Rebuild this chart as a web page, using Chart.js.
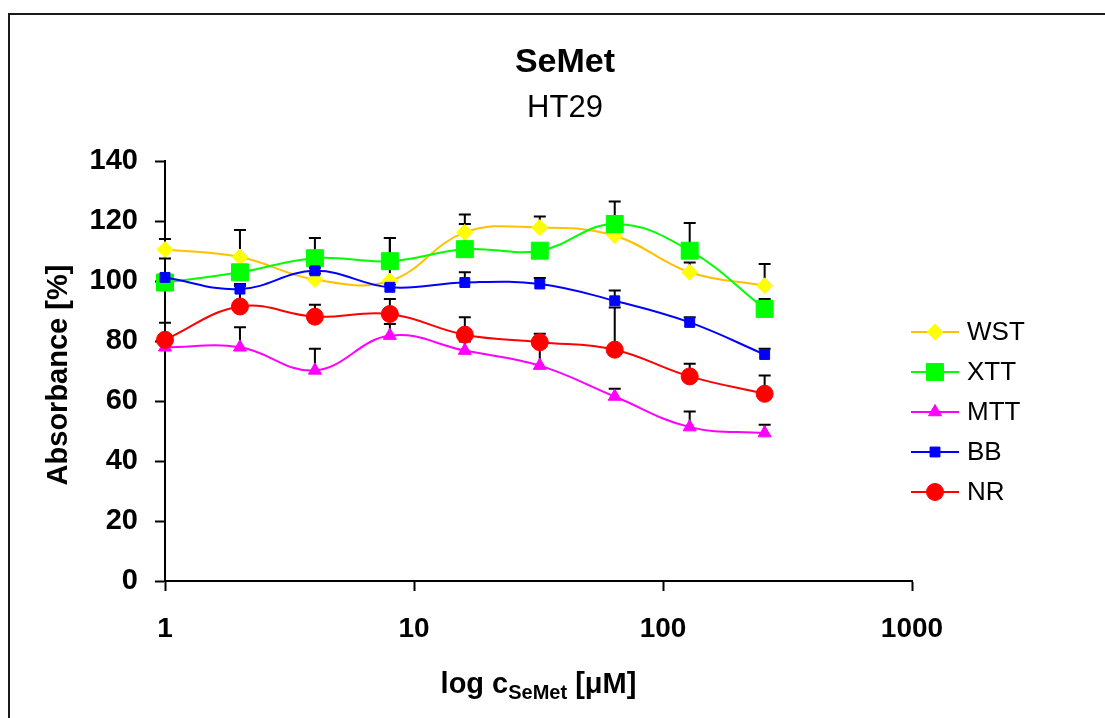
<!DOCTYPE html>
<html>
<head>
<meta charset="utf-8">
<script src="https://cdn.jsdelivr.net/npm/chart.js@4/dist/chart.umd.min.js"></script>
<style>
  html, body { margin: 0; padding: 0; background: #fff; overflow: hidden; }
  canvas { display: block; }
</style>
</head>
<body>
<canvas id="c" width="1105" height="718"></canvas>
<script>
// ---- data ----
const concentrations = [1, 2, 4, 8, 16, 32, 64, 128, 256];
const xTickValues = [1, 10, 100, 1000];
const seriesNames = ['WST', 'XTT', 'MTT', 'BB', 'NR'];

const wst    = [110.5, 108.0, 100.5, 100.0, 116.2, 117.8, 115.1, 102.9, 98.4];
const wstErr = [3.5, 9.0, 2.0, 14.3, 6.0, 3.7, 2.0, 3.3, 7.3];
const xtt    = [99.5, 102.9, 107.6, 106.6, 110.6, 110.1, 119.0, 110.1, 90.7];
const xttErr = [1.0, 1.0, 6.7, 7.7, 8.4, 1.0, 7.5, 9.2, 3.3];
const mtt    = [77.9, 77.9, 70.2, 81.8, 76.8, 71.8, 61.5, 51.3, 49.3];
const mttErr = [1.0, 6.7, 7.2, 3.9, 3.0, 7.0, 2.6, 5.2, 2.8];
const bb     = [101.2, 97.3, 103.4, 97.9, 99.5, 99.0, 93.4, 86.2, 75.5];
const bbErr  = [6.3, 1.0, 1.0, 1.0, 3.4, 2.0, 3.4, 1.7, 1.9];
const nr     = [80.4, 91.5, 88.1, 89.0, 82.1, 79.6, 77.1, 68.2, 62.4];
const nrErr  = [5.7, 7.5, 4.0, 5.0, 5.8, 2.8, 14.1, 4.2, 6.1];

// ---- styles ----
const FONT = '"Liberation Sans", Arial, sans-serif';
const styles = {
  WST: { line: '#FFC000', fill: '#FFFF00', point: 'rectRot', r: 8, order: 4 },
  XTT: { line: '#00FF00', fill: '#00FF00', point: 'rect', r: 12, order: 3 },
  MTT: { line: '#FF00FF', fill: '#FF00FF', point: 'triangle', r: 7.5, order: 2 },
  BB:  { line: '#0000FF', fill: '#0000FF', point: 'rect', r: 7, order: 1 },
  NR:  { line: '#FF0000', fill: '#FF0000', point: 'circle', r: 8.5, order: 0 }
};
const values = { WST: wst, XTT: xtt, MTT: mtt, BB: bb, NR: nr };
const errors = { WST: wstErr, XTT: xttErr, MTT: mttErr, BB: bbErr, NR: nrErr };

const datasets = seriesNames.map(name => {
  const s = styles[name];
  return {
    label: name,
    data: concentrations.map((x, i) => ({ x: x, y: values[name][i] })),
    errs: errors[name],
    borderColor: s.line,
    backgroundColor: s.fill,
    pointBackgroundColor: s.fill,
    pointBorderColor: s.fill,
    pointBorderWidth: 1,
    pointStyle: s.point,
    pointRadius: s.r,
    borderWidth: 2,
    tension: 0.4,
    order: s.order,
    clip: false
  };
});

function drawMarker(ctx, style, radius, x, y, fill) {
  ctx.save();
  ctx.fillStyle = fill; ctx.strokeStyle = fill; ctx.lineWidth = 1;
  if (Chart.helpers && Chart.helpers.drawPoint) {
    Chart.helpers.drawPoint(ctx, { pointStyle: style, radius: radius, rotation: 0, borderWidth: 1 }, x, y);
  } else {
    ctx.beginPath(); ctx.arc(x, y, radius, 0, Math.PI * 2); ctx.fill();
  }
  ctx.restore();
}

const decor = {
  id: 'decor',
  beforeDraw(chart) {
    const ctx = chart.ctx;
    ctx.save();
    ctx.fillStyle = '#fff';
    ctx.fillRect(0, 0, chart.width, chart.height);
    ctx.strokeStyle = '#1a1a1a';
    ctx.lineWidth = 2;
    ctx.beginPath();
    ctx.moveTo(9, chart.height + 2);
    ctx.lineTo(9, 14);
    ctx.lineTo(chart.width + 2, 14);
    ctx.stroke();
    // titles
    ctx.fillStyle = '#000';
    ctx.textAlign = 'center';
    ctx.textBaseline = 'alphabetic';
    ctx.font = 'bold 34px ' + FONT;
    ctx.fillText('SeMet', 565, 72);
    ctx.font = '31px ' + FONT;
    ctx.fillText('HT29', 565, 117);
    // y axis title
    ctx.save();
    ctx.translate(59, 375);
    ctx.rotate(-Math.PI / 2);
    ctx.textBaseline = 'middle';
    ctx.font = 'bold 29px ' + FONT;
    ctx.fillText('Absorbance [%]', 0, 0);
    ctx.restore();
    // x axis title with subscript
    const area = chart.chartArea;
    const p1 = 'log c', p2 = 'SeMet', p3 = ' [\u03BCM]';
    const big = 'bold 29px ' + FONT, small = 'bold 20px ' + FONT;
    ctx.font = big; const w1 = ctx.measureText(p1).width; const w3 = ctx.measureText(p3).width;
    ctx.font = small; const w2 = ctx.measureText(p2).width;
    const total = w1 + w2 + w3;
    let x0 = (area.left + area.right) / 2 - total / 2;
    const base = 693;
    ctx.textAlign = 'left';
    ctx.font = big; ctx.fillText(p1, x0, base);
    ctx.font = small; ctx.fillText(p2, x0 + w1, base + 6);
    ctx.font = big; ctx.fillText(p3, x0 + w1 + w2, base);
    // legend
    const lx0 = 911, lx1 = 959, mx = 935, tx = 967;
    seriesNames.forEach((name, i) => {
      const s = styles[name];
      const y = 332 + i * 40;
      ctx.strokeStyle = s.line; ctx.lineWidth = 2;
      ctx.beginPath(); ctx.moveTo(lx0, y); ctx.lineTo(lx1, y); ctx.stroke();
      drawMarker(ctx, s.point, s.r, mx, y, s.fill);
      ctx.fillStyle = '#000';
      ctx.font = '26px ' + FONT;
      ctx.textBaseline = 'middle';
      ctx.textAlign = 'left';
      ctx.fillText(name, tx, y + 1);
    });
    ctx.restore();
  },
  beforeDatasetsDraw(chart) {
    const ctx = chart.ctx;
    const xs = chart.scales.x, ys = chart.scales.y;
    ctx.save();
    ctx.strokeStyle = '#000';
    ctx.lineWidth = 2;
    chart.data.datasets.forEach(ds => {
      ds.data.forEach((pt, i) => {
        const e = ds.errs[i];
        const px = xs.getPixelForValue(pt.x);
        const py = ys.getPixelForValue(pt.y);
        const pt2 = ys.getPixelForValue(pt.y + e);
        ctx.beginPath();
        ctx.moveTo(px, py); ctx.lineTo(px, pt2);
        ctx.moveTo(px - 6, pt2); ctx.lineTo(px + 6, pt2);
        ctx.stroke();
      });
    });
    ctx.restore();
  }
};

new Chart(document.getElementById('c'), {
  type: 'line',
  data: { datasets: datasets },
  plugins: [decor],
  options: {
    responsive: false,
    animation: false,
    layout: { padding: { left: 0, right: 193, top: 161, bottom: 0 } },
    plugins: { legend: { display: false }, title: { display: false }, tooltip: { enabled: false } },
    scales: {
      x: {
        type: 'logarithmic',
        min: 1, max: 1000,
        afterBuildTicks: scale => { scale.ticks = xTickValues.map(v => ({ value: v })); },
        afterFit: scale => { scale.height = 137; },
        ticks: {
          callback: v => String(v),
          color: '#000',
          font: { family: FONT, size: 28, weight: 'bold' },
          padding: 21,
          maxRotation: 0,
          autoSkip: false
        },
        grid: { drawOnChartArea: false, drawTicks: true, tickLength: 10, tickColor: '#000', tickWidth: 2 },
        border: { display: true, color: '#000', width: 2 }
      },
      y: {
        min: 0, max: 140,
        afterFit: scale => { scale.width = 165; },
        ticks: {
          stepSize: 20,
          color: '#000',
          font: { family: FONT, size: 29, weight: 'bold' },
          padding: 17
        },
        grid: { drawOnChartArea: false, drawTicks: true, tickLength: 10, tickColor: '#000', tickWidth: 2 },
        border: { display: true, color: '#000', width: 2 }
      }
    }
  }
});
</script>
</body>
</html>
